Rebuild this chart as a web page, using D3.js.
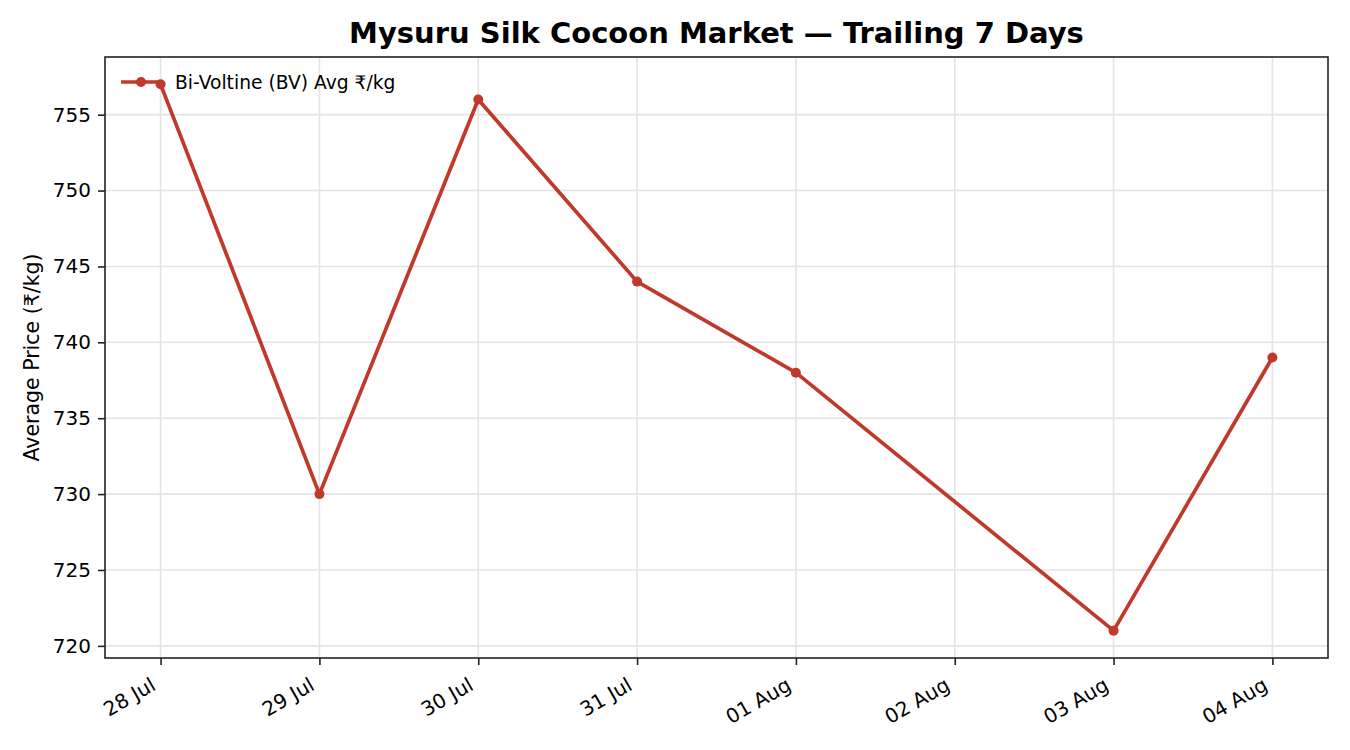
<!DOCTYPE html>
<html><head><meta charset="utf-8">
<script src="https://cdn.jsdelivr.net/npm/d3@7"></script>
<style>body{margin:0;background:#fff}svg{display:block;font-family:"DejaVu Sans",sans-serif}</style>
</head><body>
<svg id="c" width="1350" height="750"></svg>
<script>
const dates = ["2024-07-28","2024-07-29","2024-07-30","2024-07-31","2024-08-01","2024-08-03","2024-08-04"];
const prices = [757,730,756,744,738,721,739];
const tickDates = ["2024-07-28","2024-07-29","2024-07-30","2024-07-31","2024-08-01","2024-08-02","2024-08-03","2024-08-04"];
const yTicks = [720,725,730,735,740,745,750,755];
const title = "Mysuru Silk Cocoon Market — Trailing 7 Days";
const yLabel = "Average Price (₹/kg)";
const seriesName = "Bi-Voltine (BV) Avg ₹/kg";
const color = "#c0392b";

const parse = d3.utcParse("%Y-%m-%d");
const data = dates.map((d,i)=>({date:parse(d), v:prices[i]}));
const L=105,R=1328,T=57,B=658;
const svg=d3.select("#c");
const x0=parse(dates[0]), x1=parse(dates[dates.length-1]);
const span=x1-x0, pad=span*0.05;
const x=d3.scaleUtc().domain([new Date(+x0-pad),new Date(+x1+pad)]).range([L,R]);
const yMin=d3.min(prices), yMax=d3.max(prices), yp=(yMax-yMin)*0.05;
const y=d3.scaleLinear().domain([yMin-yp,yMax+yp]).range([B,T]);

const tds=tickDates.map(parse);
// grid
const g=svg.append("g");
g.selectAll(".gx").data(tds).join("line").attr("x1",d=>x(d)).attr("x2",d=>x(d)).attr("y1",T).attr("y2",B).attr("stroke","#e4e4e4").attr("stroke-width",1.6);
g.selectAll(".gy").data(yTicks).join("line").attr("y1",d=>y(d)).attr("y2",d=>y(d)).attr("x1",L).attr("x2",R).attr("stroke","#e4e4e4").attr("stroke-width",1.6);

// axes
const fmt=d3.utcFormat("%d %b");
const xa=svg.append("g").attr("transform",`translate(0,${B})`).call(d3.axisBottom(x).tickValues(tds).tickFormat(fmt).tickSize(7).tickSizeOuter(0));
xa.select(".domain").remove();
xa.selectAll(".tick line").attr("stroke","#222").attr("stroke-width",1.6);
xa.selectAll(".tick text").attr("font-size",20).attr("fill","#000").attr("font-family","DejaVu Sans")
  .attr("text-anchor","end").attr("y",0).attr("dy",0).attr("x",0).attr("transform","translate(-4,31) rotate(-30)");
const ya=svg.append("g").attr("transform",`translate(${L},0)`).call(d3.axisLeft(y).tickValues(yTicks).tickSize(7).tickSizeOuter(0).tickPadding(7));
ya.select(".domain").remove();
ya.selectAll(".tick line").attr("stroke","#222").attr("stroke-width",1.6);
ya.selectAll(".tick text").attr("font-size",20).attr("fill","#000").attr("font-family","DejaVu Sans");

// frame
svg.append("rect").attr("x",L).attr("y",T).attr("width",R-L).attr("height",B-T).attr("fill","none").attr("stroke","#222").attr("stroke-width",1.6);

// line
const line=d3.line().x(d=>x(d.date)).y(d=>y(d.v));
svg.append("path").datum(data).attr("d",line).attr("fill","none").attr("stroke",color).attr("stroke-width",3.7).attr("stroke-linejoin","round");
svg.selectAll(".pt").data(data).join("circle").attr("cx",d=>x(d.date)).attr("cy",d=>y(d.v)).attr("r",5).attr("fill",color);

// legend
svg.append("line").attr("x1",121).attr("x2",161).attr("y1",82).attr("y2",82).attr("stroke",color).attr("stroke-width",3.7);
svg.append("circle").attr("cx",141).attr("cy",82).attr("r",5).attr("fill",color);
svg.append("text").attr("x",175).attr("y",82).attr("dy","0.35em").attr("font-size",18.7).text(seriesName);

// title and labels
svg.append("text").attr("x",(L+R)/2).attr("y",43).attr("text-anchor","middle").attr("font-size",29).attr("font-weight","bold").text(title);
svg.append("text").attr("transform",`translate(39,${(T+B)/2}) rotate(-90)`).attr("text-anchor","middle").attr("font-size",20.5).text(yLabel);
</script>
</body></html>
